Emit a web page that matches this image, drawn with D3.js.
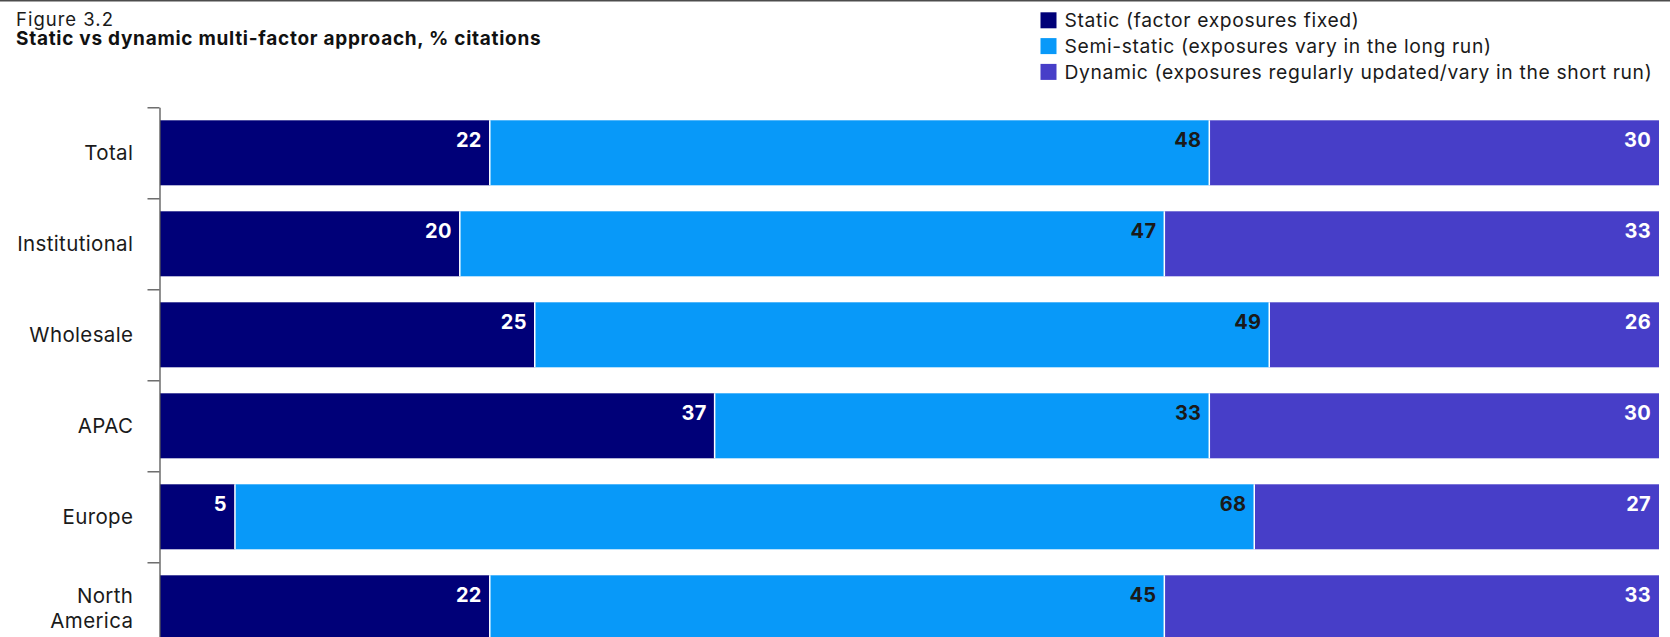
<!DOCTYPE html>
<html><head><meta charset="utf-8">
<script src="https://cdn.jsdelivr.net/npm/d3@7"></script>
<style>body{margin:0;background:#fff;overflow:hidden} svg{display:block}</style>
</head><body><svg id="c" width="1670" height="637"></svg>
<script>
const categories = ["Total","Institutional","Wholesale","APAC","Europe","North America"];
const staticVals = [22,20,25,37,5,22];
const semiStaticVals = [48,47,49,33,68,45];
const dynamicVals = [30,33,26,30,27,33];
const seriesKeys = ["static","semi","dynamic"];
const seriesNames = ["Static (factor exposures fixed)","Semi-static (exposures vary in the long run)","Dynamic (exposures regularly updated/vary in the short run)"];
const colors = ["#000078","#0899f9","#473ec8"];
const labelColors = ["#ffffff","#1a1a1a","#ffffff"];
const figureLabel = "Figure 3.2";
const titleText = "Static vs dynamic multi-factor approach, % citations";

const rows = categories.map((c,i)=>({cat:c, static:staticVals[i], semi:semiStaticVals[i], dynamic:dynamicVals[i]}));
const FONT = "Inter, Roboto, 'Liberation Sans', sans-serif";
const svg = d3.select("#c");

// top rule
svg.append("line").attr("x1",0).attr("x2",1670).attr("y1",0.75).attr("y2",0.75)
  .attr("stroke","#4d4d4d").attr("stroke-width",1.5);

svg.append("text").attr("x",16).attr("y",25.8).attr("font-family",FONT).attr("font-size",18.5)
  .attr("fill","#1a1a1a").attr("letter-spacing","1.0").text(figureLabel);
svg.append("text").attr("x",16).attr("y",45.4).attr("font-family",FONT).attr("font-size",19)
  .attr("font-weight","bold").attr("fill","#111").attr("letter-spacing","0.72").text(titleText);

const x = d3.scaleLinear().domain([0,100]).range([160,1659]);
const y = d3.scaleBand().domain(categories).range([107.3,653.3]).paddingInner(0.2857).paddingOuter(0.1429);
const yIdx = d3.scaleLinear().domain([0,categories.length]).range([107.3,653.3]);

const stack = d3.stack().keys(seriesKeys)(rows);

const g = svg.append("g");
stack.forEach((layer,si)=>{
  g.selectAll(null).data(layer).enter().append("rect")
    .attr("x",d=>x(d[0])).attr("y",d=>y(d.data.cat))
    .attr("width",d=>x(d[1])-x(d[0])).attr("height",y.bandwidth())
    .attr("fill",colors[si]);
});
// separators
stack.slice(0,2).forEach(layer=>{
  g.selectAll(null).data(layer).enter().append("line")
    .attr("x1",d=>x(d[1])).attr("x2",d=>x(d[1]))
    .attr("y1",d=>y(d.data.cat)).attr("y2",d=>y(d.data.cat)+y.bandwidth())
    .attr("stroke","#fff").attr("stroke-width",1.5);
});
// value labels
stack.forEach((layer,si)=>{
  g.selectAll(null).data(layer).enter().append("text")
    .attr("x",d=>x(d[1])-8).attr("y",d=>y(d.data.cat)+27)
    .attr("text-anchor","end").attr("font-family",FONT).attr("font-weight","bold")
    .attr("font-size",20).attr("letter-spacing","0.3").attr("fill",labelColors[si])
    .text(d=>d.data[seriesKeys[si]]);
});

// axis
const axis = d3.axisLeft(yIdx).tickValues(d3.range(categories.length)).tickSize(12).tickSizeOuter(0).tickFormat("");
const ag = svg.append("g").attr("transform","translate(159.5,0)").call(axis);
ag.selectAll("path,line").attr("stroke","#555").attr("stroke-width",1.3);

// category labels
const lab = svg.append("g");
categories.forEach(c=>{
  const cy = y(c)+y.bandwidth()/2;
  const parts = c.length>12 ? c.split(" ") : [c];
  const t = lab.append("text").attr("x",133).attr("text-anchor","end")
    .attr("font-family",FONT).attr("font-size",20.5).attr("fill","#1a1a1a").attr("letter-spacing","0.35");
  const lh = 25;
  parts.forEach((p,i)=>{
    t.append("tspan").attr("x",133.3).attr("y",cy+7.3-(parts.length-1)*lh/2+i*lh).text(p);
  });
});

// legend
const lg = svg.append("g");
seriesNames.forEach((n,i)=>{
  const ty = 12.3+i*25.8;
  lg.append("rect").attr("x",1040.5).attr("y",ty).attr("width",16).attr("height",16).attr("fill",colors[i]);
  lg.append("text").attr("x",1064.5).attr("y",ty+15).attr("font-family",FONT).attr("font-size",19.3)
    .attr("fill","#1a1a1a").attr("letter-spacing","0.64").text(n);
});
</script></body></html>
